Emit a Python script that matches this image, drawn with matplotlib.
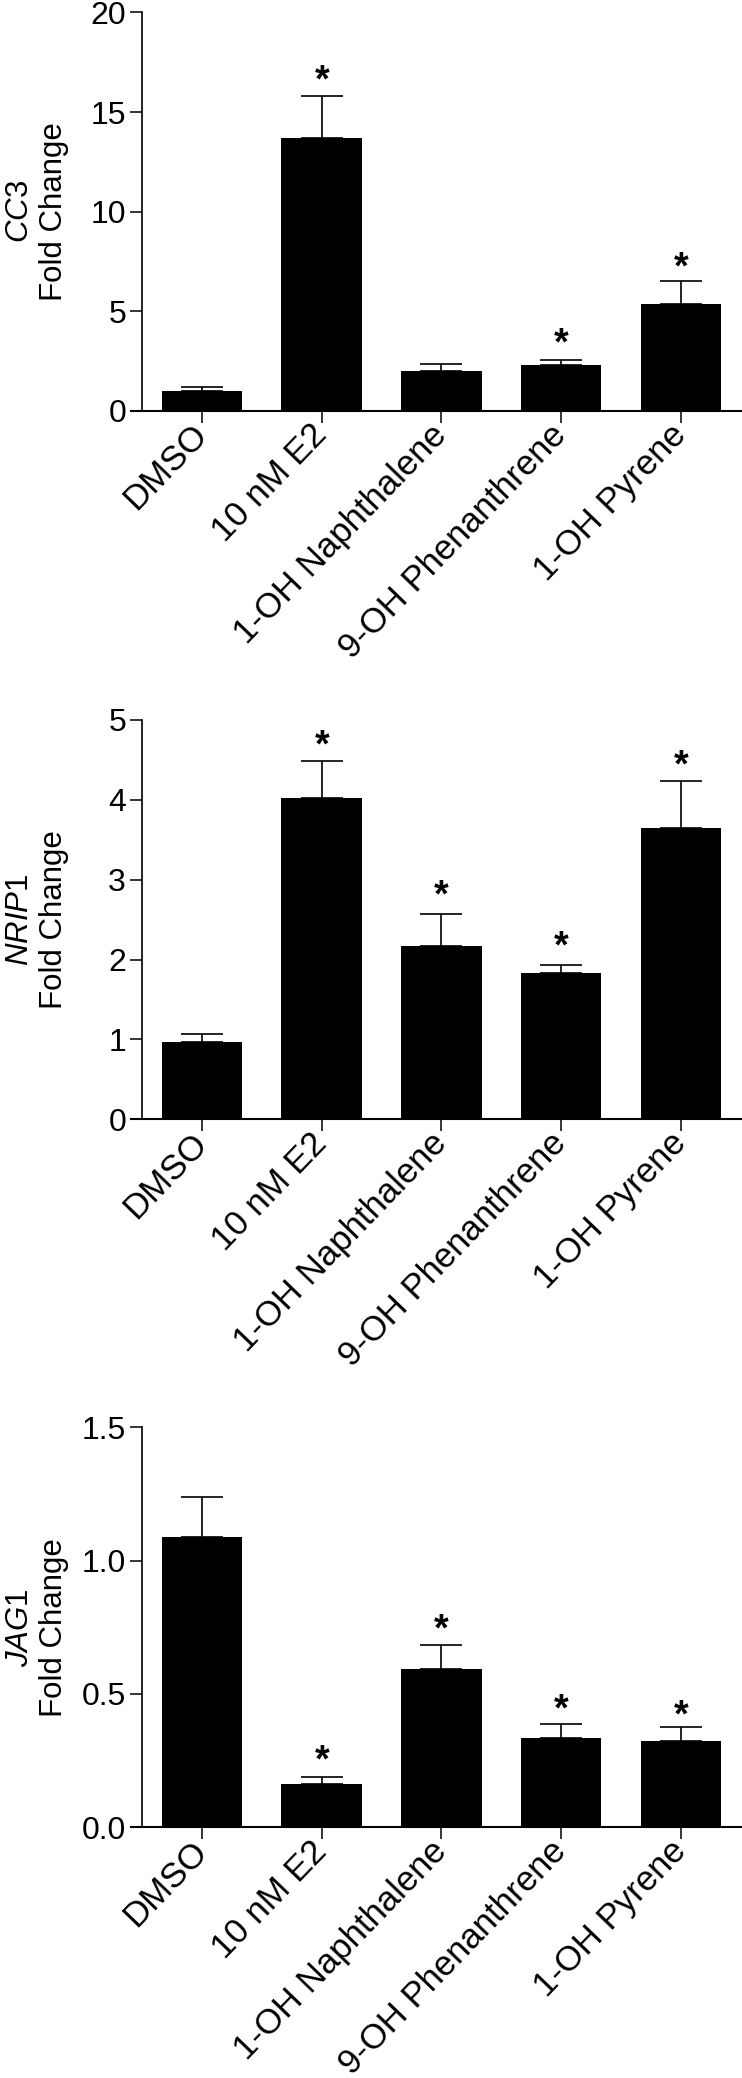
import matplotlib
matplotlib.use("Agg")
import matplotlib.pyplot as plt
import numpy as np

plt.rcParams['font.family'] = ['Liberation Sans', 'DejaVu Sans']
plt.rcParams['mathtext.fontset'] = 'custom'
plt.rcParams['mathtext.it'] = 'Liberation Sans:italic'
plt.rcParams['mathtext.rm'] = 'Liberation Sans'

# data
groups = ['DMSO', '10 nM E2', '1-OH Naphthalene', '9-OH Phenanthrene', '1-OH Pyrene']

cc3_mean = [1.0, 13.72, 2.0, 2.32, 5.38]
cc3_err = [0.17, 2.10, 0.34, 0.25, 1.12]
cc3_star = [None, 17.1, None, 3.88, 7.7]

nrip1_mean = [0.97, 4.02, 2.17, 1.83, 3.65]
nrip1_err = [0.10, 0.47, 0.40, 0.10, 0.59]
nrip1_star = [None, 4.81, 2.93, 2.29, 4.56]

jag1_mean = [1.0875, 0.161, 0.595, 0.334, 0.324]
jag1_err = [0.15, 0.027, 0.09, 0.055, 0.052]
jag1_star = [None, 0.29, 0.78, 0.48, 0.46]

genes = ['CC3', 'NRIP1', 'JAG1']
ylims = [20, 5, 1.5]
yticks = [[0, 5, 10, 15, 20], [0, 1, 2, 3, 4, 5], [0.0, 0.5, 1.0, 1.5]]
yfmt = ['%d', '%d', '%.1f']

fig = plt.figure(figsize=(7.42, 20.78), dpi=100)

# panel boxes (figure fractions)
boxes = [[0.1772, 0.80236, 0.8228, 0.19163],
         [0.1772, 0.46136, 0.8228, 0.19216],
         [0.1772, 0.12065, 0.8228, 0.19249]]

panels = [(cc3_mean, cc3_err, cc3_star),
          (nrip1_mean, nrip1_err, nrip1_star),
          (jag1_mean, jag1_err, jag1_star)]

x = np.arange(len(groups))

for i, (mean, err, star) in enumerate(panels):
    ax = fig.add_axes(boxes[i])
    ax.bar(x, mean, width=0.672, color='black', edgecolor='black', linewidth=0)
    ax.errorbar(x, mean, yerr=[np.zeros(len(err)), err], fmt='none',
                ecolor='black', elinewidth=1.2, capsize=15, capthick=1.2)
    for xi, s in zip(x, star):
        if s is not None:
            ax.annotate('*', (xi, s), xytext=(0, -15.5), textcoords='offset points',
                        ha='center', va='baseline', fontsize=27, fontweight='bold')

    ax.set_xlim(-0.589, 4.511)
    ax.set_ylim(0, ylims[i])
    ax.set_yticks(yticks[i])
    ax.set_yticklabels([yfmt[i] % v for v in yticks[i]])
    ax.set_xticks(x)
    ax.set_xticklabels(groups, rotation=46, ha='right', va='center',
                       rotation_mode='anchor', fontsize=25)

    ax.spines['right'].set_visible(False)
    ax.spines['top'].set_visible(False)
    ax.spines['left'].set_position(('data', -0.5))
    ax.spines['left'].set_linewidth(1.2)
    ax.spines['bottom'].set_linewidth(1.5)

    ax.tick_params(axis='y', length=8.6, width=1.1, pad=3, labelsize=23)
    ax.tick_params(axis='x', length=8.6, width=1.1, pad=5)

    ax.set_ylabel(r'$\mathit{' + genes[i] + '}$' + '\nFold Change', fontsize=22.5)
    ax.yaxis.set_label_coords(-0.102, 0.5)

fig.savefig('out.png', dpi=100)
